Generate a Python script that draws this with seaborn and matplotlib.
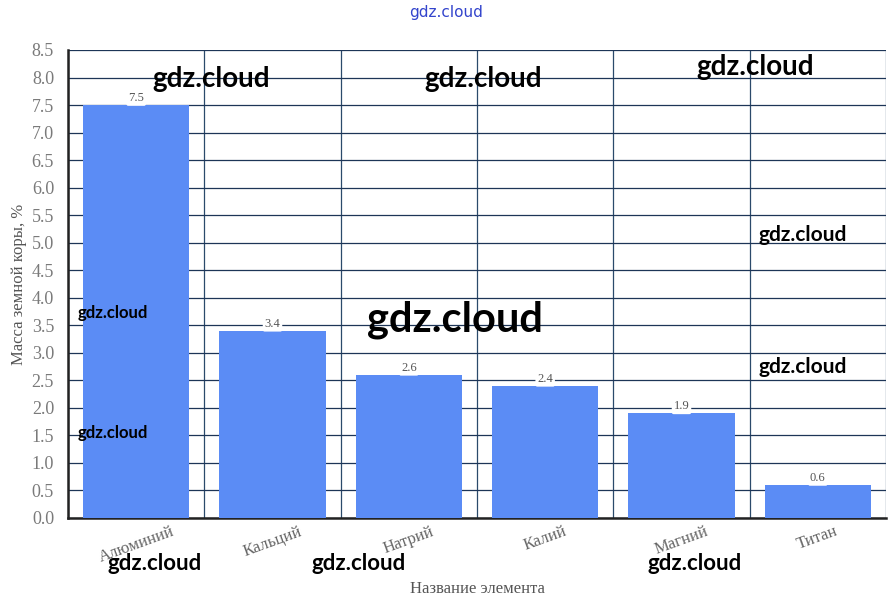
import matplotlib
matplotlib.use("Agg")
import matplotlib.pyplot as plt
import seaborn as sns
import numpy as np
import pandas as pd
from matplotlib.ticker import MultipleLocator, FixedLocator

elements = ["Алюминий", "Кальций", "Натрий", "Калий", "Магний", "Титан"]
mass_share = [7.5, 3.4, 2.6, 2.4, 1.9, 0.6]
value_labels = ["7.5", "3.4", "2.6", "2.4", "1.9", "0.6"]

x_title = "Название элемента"
y_title = "Масса земной коры, %"

# watermark texts (x, y in figure pixels from top-left, size)
marks = [(211, 79, 20), (483, 79, 20), (755, 67, 20), (803, 235, 15),
         (455, 320, 30), (113, 313, 12), (803, 367, 15), (113, 433, 12),
         (155, 563, 16), (359, 563, 16), (695, 563, 16)]

df = pd.DataFrame({"element": elements, "mass": mass_share})

sns.set_style("white")
plt.rcParams['font.family'] = ['Liberation Serif', 'DejaVu Serif']

fig = plt.figure(figsize=(8.92, 6.07), dpi=100)
ax = fig.add_axes([68 / 892, 1 - 518 / 607, 818 / 892, 468 / 607])

sns.barplot(data=df, x="element", y="mass", color="#5b8cf5", saturation=1,
            width=0.78, linewidth=0, ax=ax, zorder=3)

ax.set_xlim(-0.5, 5.5)
ax.set_ylim(0, 8.5)
ax.yaxis.set_major_locator(MultipleLocator(0.5))
ax.set_yticklabels([f"{v:.1f}" for v in ax.get_yticks()])
ax.xaxis.set_minor_locator(FixedLocator(np.arange(-0.5, 6.0, 1.0)))

ax.grid(axis="y", which="major", color="#1d3557", linewidth=0.9, zorder=0)
ax.grid(axis="x", which="minor", color="#2b4a6b", linewidth=0.9, zorder=0)
ax.set_axisbelow(True)

for s in ["top", "right"]:
    ax.spines[s].set_visible(False)
ax.spines["left"].set_color("#222222")
ax.spines["left"].set_linewidth(1.8)
ax.spines["bottom"].set_color("#222222")
ax.spines["bottom"].set_linewidth(1.8)

ax.tick_params(axis="y", which="major", direction="out", length=7, width=1.2,
               color="#222222", labelsize=13, labelcolor="#7a7a7a", pad=3)
ax.tick_params(axis="x", which="major", length=0, labelsize=12,
               labelcolor="#666666", pad=4)
ax.tick_params(axis="x", which="minor", direction="out", length=6, width=1.0,
               color="#444444")
plt.setp(ax.get_xticklabels(), rotation=20)

for i, (v, lab) in enumerate(zip(mass_share, value_labels)):
    ax.text(i, v + 0.02, lab, ha="center", va="bottom", fontsize=9,
            color="#555555", zorder=5,
            bbox=dict(boxstyle="round,pad=0.15", fc="white", ec="none"))

ax.set_xlabel(x_title, fontsize=12, color="#555555")
ax.set_ylabel(y_title, fontsize=12, color="#555555")
ax.xaxis.set_label_coords(0.5, -0.135)
ax.yaxis.set_label_coords(-0.05, 0.5)

fig.text(446 / 892, 1 - 12 / 607, "gdz.cloud", ha="center", va="center",
         fontsize=11, color="#3344cc", family=["DejaVu Sans"])
for mx, my, sz in marks:
    fig.text(mx / 892, 1 - my / 607, "gdz.cloud", ha="center", va="center",
             fontsize=sz, color="black", family=["Lato", "DejaVu Sans"],
             fontweight="bold", zorder=10)

fig.savefig("out.png", dpi=100)
